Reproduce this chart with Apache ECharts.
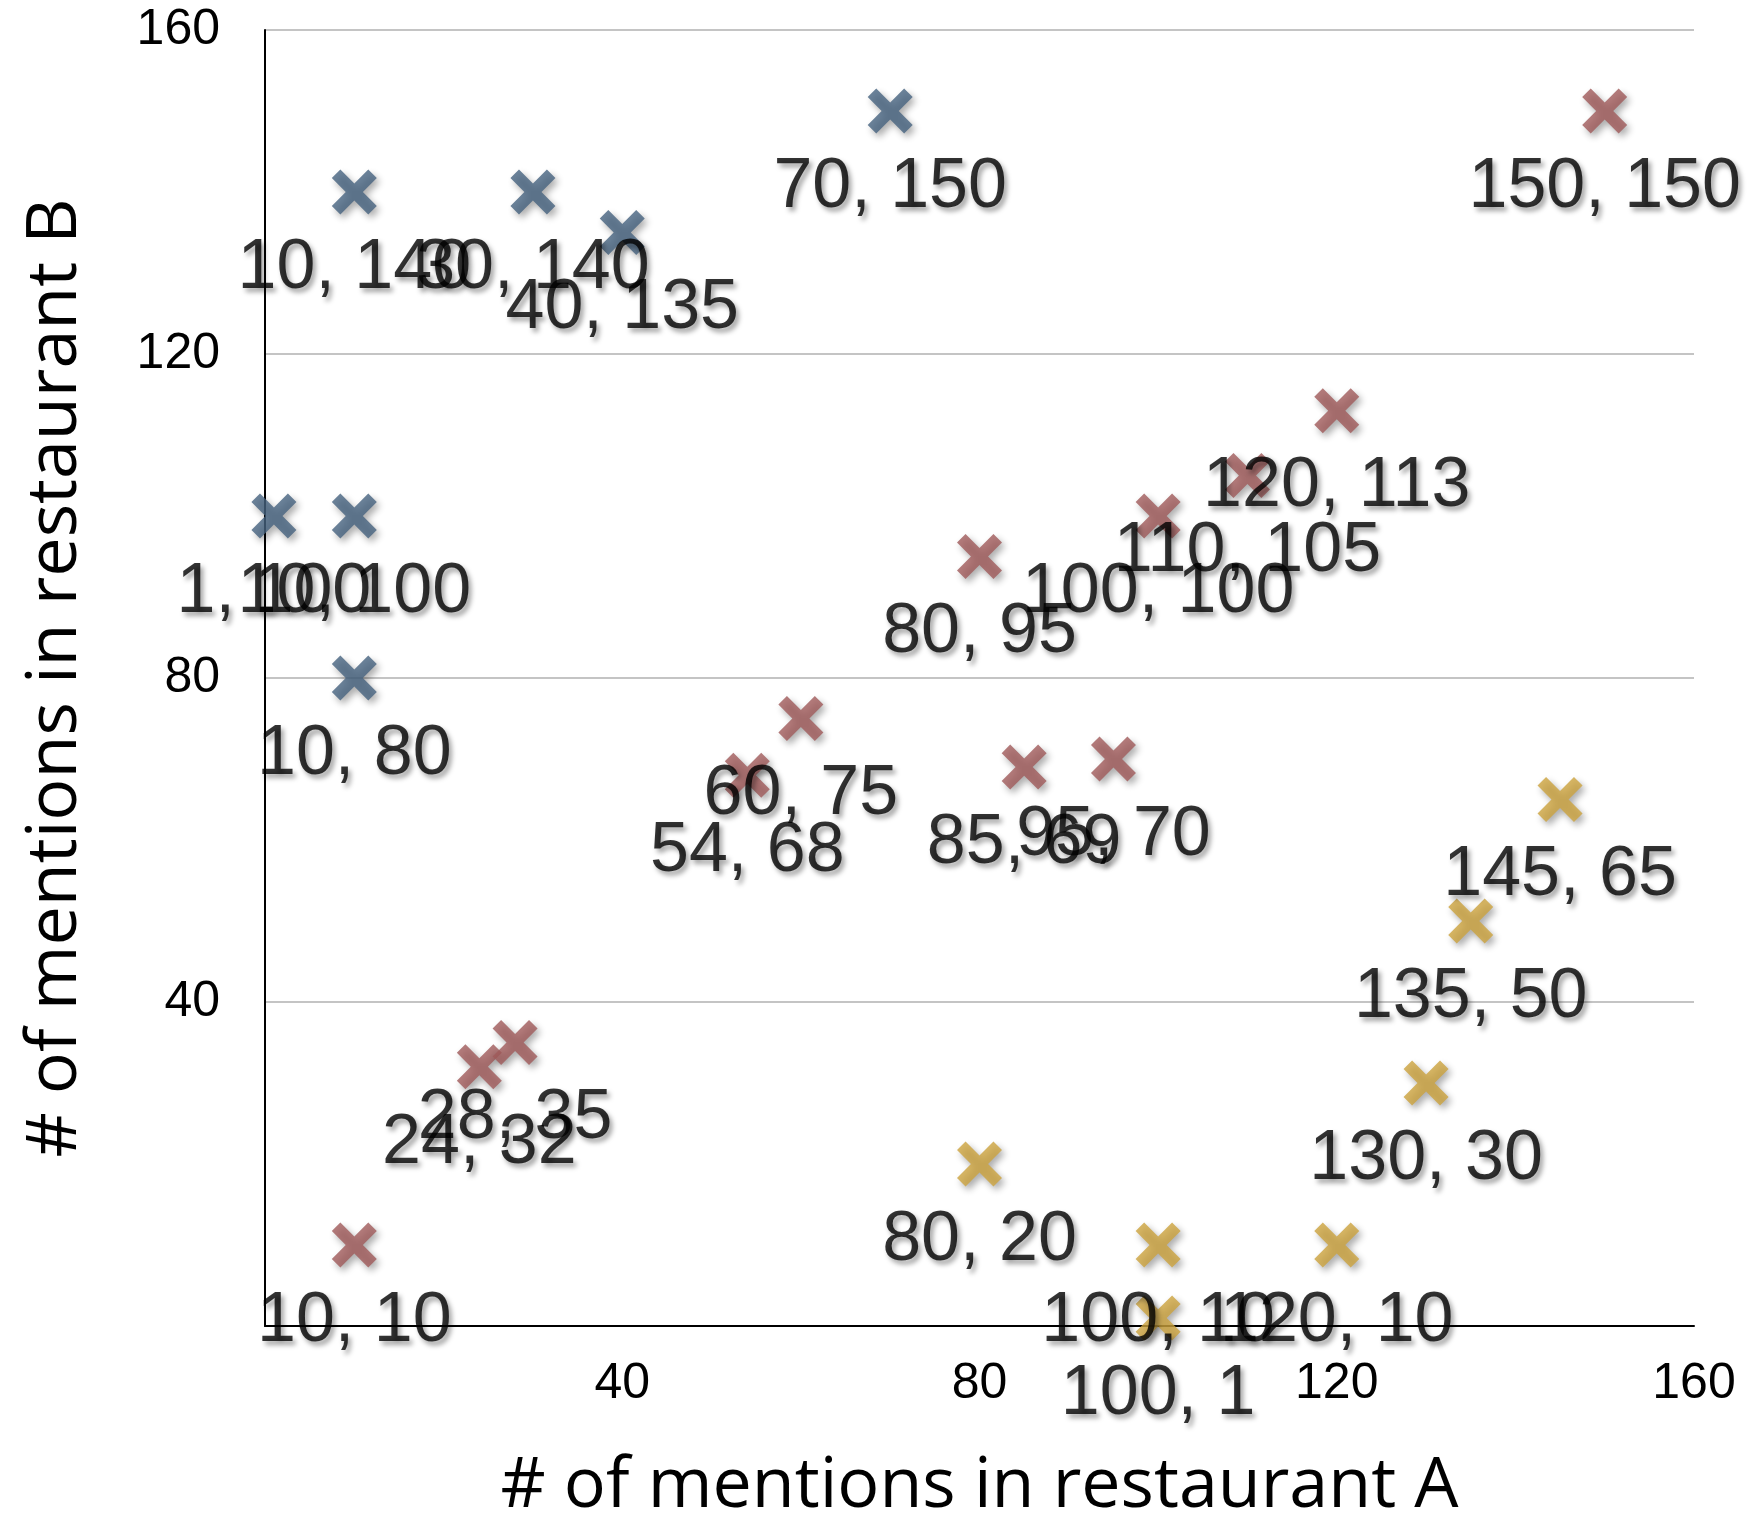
<!DOCTYPE html>
<html>
<head>
<meta charset="utf-8">
<script src="https://cdn.jsdelivr.net/npm/echarts@6/dist/echarts.min.js"></script>
<style>
html,body{margin:0;padding:0;background:#fff;}
#chart{width:1752px;height:1516px;}
</style>
</head>
<body>
<div id="chart"></div>
<script>
// Data
var blueX = [1, 10, 10, 10, 30, 40, 70];
var blueY = [100, 100, 80, 140, 140, 135, 150];
var redX = [10, 24, 28, 54, 60, 80, 85, 95, 100, 110, 120, 150];
var redY = [10, 32, 35, 68, 75, 95, 69, 70, 100, 105, 113, 150];
var goldX = [80, 100, 100, 120, 130, 135, 145];
var goldY = [20, 10, 1, 10, 30, 50, 65];
var xTicks = [40, 80, 120, 160];
var yTicks = [40, 80, 120, 160];
var xTitle = '# of mentions in restaurant A';
var yTitle = '# of mentions in restaurant B';

function pairs(xs, ys) { return xs.map(function (x, i) { return [x, ys[i]]; }); }

var xShape = 'path://M0,19 L19,0 L50,31 L81,0 L100,19 L69,50 L100,81 L81,100 L50,69 L19,100 L0,81 L31,50 Z';

function makeSeries(name, color, data) {
  return {
    name: name,
    type: 'scatter',
    clip: false,
    symbol: xShape,
    symbolSize: 45,
    data: data,
    itemStyle: {
      color: color,
      shadowColor: 'rgba(0,0,0,0.4)',
      shadowBlur: 7,
      shadowOffsetX: 3,
      shadowOffsetY: 4
    },
    label: {
      show: true,
      position: 'bottom',
      distance: 19,
      formatter: function (p) { return p.value[0] + ', ' + p.value[1]; },
      color: '#000',
      fontFamily: '"Liberation Sans", Arial, sans-serif',
      fontSize: 70,
      textShadowColor: 'rgba(0,0,0,0.45)',
      textShadowBlur: 5,
      textShadowOffsetX: 3,
      textShadowOffsetY: 4
    },
    emphasis: { disabled: true }
  };
}

var chart = echarts.init(document.getElementById('chart'), null, { renderer: 'canvas' });
chart.setOption({
  animation: false,
  backgroundColor: '#fff',
  grid: { left: 265, right: 58, top: 30, bottom: 190, containLabel: false, outerBoundsMode: 'none' },
  xAxis: {
    type: 'value', min: 0, max: 160, interval: 40,
    name: xTitle, nameLocation: 'middle', nameGap: 126,
    nameTextStyle: { fontFamily: '"Open Sans", sans-serif', fontSize: 70, color: '#000' },
    axisLine: { show: true, lineStyle: { color: '#000', width: 2 } },
    axisTick: { show: false },
    splitLine: { show: false },
    axisLabel: {
      showMinLabel: false, margin: 33,
      fontFamily: '"Liberation Sans", Arial, sans-serif', fontSize: 50, color: '#000',
      formatter: function (v) { return xTicks.indexOf(v) >= 0 ? String(v) : ''; }
    }
  },
  yAxis: {
    type: 'value', min: 0, max: 160, interval: 40,
    name: yTitle, nameLocation: 'middle', nameGap: 174, nameRotate: 90,
    nameTextStyle: { fontFamily: '"Open Sans", sans-serif', fontSize: 70, color: '#000' },
    axisLine: { show: true, lineStyle: { color: '#000', width: 2 } },
    axisTick: { show: false },
    splitLine: { show: true, lineStyle: { color: '#c4c4c4', width: 2 } },
    axisLabel: {
      showMinLabel: false, margin: 45,
      padding: [11, 0, 0, 0],
      fontFamily: '"Liberation Sans", Arial, sans-serif', fontSize: 50, color: '#000',
      formatter: function (v) { return yTicks.indexOf(v) >= 0 ? String(v) : ''; }
    }
  },
  series: [
    makeSeries('A', '#46637f', pairs(blueX, blueY)),
    makeSeries('B', '#a05a5a', pairs(redX, redY)),
    makeSeries('C', '#cca33d', pairs(goldX, goldY))
  ]
});
</script>
</body>
</html>
